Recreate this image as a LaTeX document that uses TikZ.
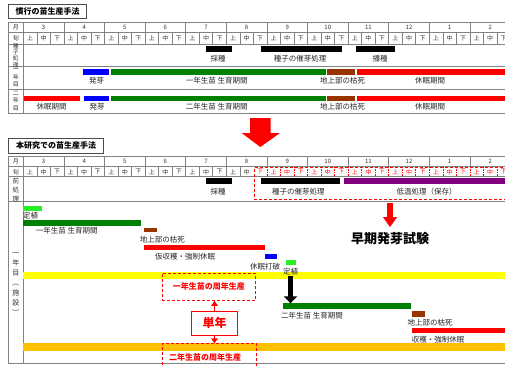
\documentclass[tikz,border=0pt]{standalone}
\usepackage{fontspec}
\setmainfont{Noto Sans CJK JP}
\usetikzlibrary{arrows.meta}
\definecolor{bgreen}{RGB}{0,128,0}
\definecolor{lgreen}{RGB}{40,240,40}
\definecolor{bblue}{RGB}{0,0,255}
\definecolor{bbrown}{RGB}{153,51,0}
\definecolor{bred}{RGB}{255,0,0}
\definecolor{bpurple}{RGB}{128,0,128}
\definecolor{byellow}{RGB}{255,255,0}
\definecolor{bgold}{RGB}{255,192,0}
\definecolor{gridgray}{RGB}{130,130,130}
\newcommand\mkbar[6]{\node[inner sep=0pt,outer sep=0pt,fill=#6,minimum width={(#3-#2)*1pt},minimum height={(#5-#4)*1pt},anchor=north west] (#1) at (#2,#4) {};}
\begin{document}
\begin{tikzpicture}[x=1pt,y=-1pt,
  lbl/.style={inner sep=0pt,font=\fontsize{7.5}{8}\selectfont,text=black!85},
  small/.style={inner sep=0pt,font=\fontsize{6}{6}\selectfont,text=black!80},
  vlbl/.style={inner sep=0pt,align=center,font=\fontsize{5.8}{6.2}\selectfont,text=black!80},
  grid/.style={draw=gridgray,line width=0.6pt},
  rdash/.style={draw=bred,dash pattern=on 3pt off 2pt,line width=0.8pt},
  titlebox/.style={draw=black!70,line width=0.8pt,anchor=north west,inner sep=0pt,font=\bfseries\fontsize{8}{8}\selectfont},
  rarrow/.style={draw=bred,line width=1.6pt,-{Triangle[width=6.5pt,length=5pt]}},
  ]
\useasboundingbox (0,0) rectangle (505,365);
\clip (0,0) rectangle (505,365);
\fill[white] (0,0) rectangle (505,365);

% ---------------- Title 1
\node[titlebox,minimum width=77.7pt,minimum height=14pt] (t1) at (8.3,4) {慣行の苗生産手法};

% ---------------- Table 1 grid
\draw[grid] (8.3,22.3) rectangle (512,113);
\foreach \yy in {32.7,44.3,66.7,89} \draw[grid] (8.3,\yy) -- (512,\yy);
\draw[grid] (23.3,22.3) -- (23.3,113);
\foreach \i in {1,...,12} {\pgfmathsetmacro\xx{23.3+40.6*\i} \draw[grid] (\xx,22.3) -- (\xx,32.7);}
\foreach \i in {1,...,35} {\pgfmathsetmacro\xx{23.3+13.533*\i} \draw[grid] (\xx,32.7) -- (\xx,44.3);}
\foreach \m [count=\i from 0] in {3,4,5,6,7,8,9,10,11,12,1,2} {\pgfmathsetmacro\xx{43.6+40.6*\i} \node[small] at (\xx,27.6) {\m};}
\foreach \i in {0,...,35} {\pgfmathtruncatemacro\k{mod(\i,3)}\pgfmathsetmacro\xx{30.07+13.533*\i}
  \node[small] at (\xx,38.6) {\ifcase\k 上\or 中\or 下\fi};}
\node[small] at (15.8,27.6) {月};
\node[small] at (15.8,38.6) {旬};
\node[vlbl] at (15.8,55.5) {種\\子\\処\\理};
\node[vlbl,font=\fontsize{6}{7.5}\selectfont] at (15.8,78) {一\\年\\目};
\node[vlbl,font=\fontsize{6}{7.5}\selectfont] at (15.8,101) {二\\年\\目};

% row 3
\mkbar{a1}{205.7}{232.3}{46}{52}{black}
\mkbar{a2}{260.7}{341.7}{46}{52}{black}
\mkbar{a3}{355.7}{395}{46}{52}{black}
\node[lbl] (a1l) at (218,59) {採種};
\node[lbl] (a2l) at (300,59) {種子の催芽処理};
\node[lbl] (a3l) at (380,59) {播種};
% row 4
\mkbar{b1}{83.3}{109}{69}{75}{bblue}
\mkbar{b2}{111}{326}{69}{75}{bgreen}
\mkbar{b3}{327.3}{355}{69}{75}{bbrown}
\mkbar{b4}{357.3}{512}{69}{75}{bred}
\node[lbl] (b1l) at (96.7,80.5) {発芽};
\node[lbl] (b2l) at (216.7,80.5) {一年生苗 生育期間};
\node[lbl] (b3l) at (342.7,80.5) {地上部の枯死};
\node[lbl] (b4l) at (430,80.5) {休眠期間};
% row 5
\mkbar{c0}{24.3}{80}{95.5}{101}{bred}
\mkbar{c1}{84}{109.3}{95.5}{101}{bblue}
\mkbar{c2}{111}{326}{95.5}{101}{bgreen}
\mkbar{c3}{327.3}{355}{95.5}{101}{bbrown}
\mkbar{c4}{357.3}{512}{95.5}{101}{bred}
\node[lbl] (c0l) at (51.7,106.5) {休眠期間};
\node[lbl] (c1l) at (97,106.5) {発芽};
\node[lbl] (c2l) at (216.7,106.5) {二年生苗 生育期間};
\node[lbl] (c3l) at (342.7,106.5) {地上部の枯死};
\node[lbl] (c4l) at (430,106.5) {休眠期間};

% ---------------- big red arrow
\fill[bred] (250,118) -- (270.7,118) -- (270.7,133) -- (280,133) -- (260.3,147) -- (241.7,133) -- (250,133) -- cycle;

% ---------------- Title 2
\node[titlebox,minimum width=94.7pt,minimum height=15pt] (t2) at (8.3,138) {本研究での苗生産手法};

% ---------------- Table 2 grid
\draw[grid] (8.3,156) rectangle (512,363);
\foreach \yy in {166.7,176.7,201.7} \draw[grid] (8.3,\yy) -- (512,\yy);
\draw[grid] (23.3,156) -- (23.3,363);
\foreach \i in {1,...,12} {\pgfmathsetmacro\xx{23.3+40.6*\i} \draw[grid] (\xx,156) -- (\xx,166.7);}
\foreach \i in {1,...,16} {\pgfmathsetmacro\xx{23.3+13.533*\i} \draw[grid] (\xx,166.7) -- (\xx,176.7);}
\foreach \i in {18,...,35} {\pgfmathsetmacro\xx{23.3+13.533*\i} \draw[draw=bred,dash pattern=on 1.5pt off 1pt,line width=0.6pt] (\xx,166.7) -- (\xx,176.7);}
\foreach \m [count=\i from 0] in {3,4,5,6,7,8,9,10,11,12,1,2} {\pgfmathsetmacro\xx{43.6+40.6*\i} \node[small] at (\xx,161.4) {\m};}
\foreach \i in {0,...,35} {\pgfmathtruncatemacro\k{mod(\i,3)}\pgfmathsetmacro\xx{30.07+13.533*\i}
  \ifnum\i>16 \def\tc{bred}\else\def\tc{black!80}\fi
  \node[small,text=\tc] at (\xx,171.8) {\ifcase\k 上\or 中\or 下\fi};}
\node[small] at (15.8,161.4) {月};
\node[small] at (15.8,171.8) {旬};
\node[vlbl,font=\fontsize{6.5}{9}\selectfont] at (15.8,189.5) {前\\処\\理};
\node[vlbl,font=\fontsize{7}{10}\selectfont] at (15.8,283.5) {一\\年\\目\\︵\\施\\設\\︶};

\node[rdash,inner sep=0pt,minimum width=258pt,minimum height=32.3pt,anchor=north west] (prebox) at (253.8,166.7) {};

\mkbar{d1}{205.7}{232.3}{178}{184}{black}
\mkbar{d2}{260.7}{340}{178}{184}{black}
\mkbar{d3}{344}{512}{178}{184}{bpurple}
\node[lbl] (d1l) at (218,191.7) {採種};
\node[lbl] (d2l) at (298.3,191.7) {種子の催芽処理};
\node[lbl] (d3l) at (426.7,191.7) {低温処理（保存）};

% early germination test
\node[inner sep=0pt,font=\bfseries\fontsize{13}{13}\selectfont] (test) at (390,238.5) {早期発芽試験};
\draw[draw=bred,line width=6.6pt,-{Triangle[width=13.4pt,length=10pt]},shorten <=2.7pt,shorten >=5pt] (test.north |- prebox.south) -- (test.north);

% first year bars
\mkbar{e1}{22.7}{41.7}{206}{210.7}{lgreen}
\node[lbl] (e1l) at (30.5,216) {定植};
\mkbar{e2}{22.7}{140.7}{220}{226}{bgreen}
\node[lbl] (e2l) at (66.7,231) {一年生苗 生育期間};
\mkbar{e3}{144}{157.3}{228}{232}{bbrown}
\node[lbl] (e3l) at (162.3,240) {地上部の枯死};
\mkbar{e4}{144}{265}{245}{250}{bred}
\node[lbl] (e4l) at (185,256.5) {仮収穫・強制休眠};
\mkbar{e5}{265}{276.7}{254}{259.3}{bblue}
\node[lbl] (e5l) at (265,267) {休眠打破};
\mkbar{e6}{285.7}{296}{260}{265}{lgreen}

\mkbar{y1}{22.7}{512}{271.7}{279.3}{byellow}
\node[lbl] (e6l) at (290.5,271.5) {定植};

% second year bars
\mkbar{f1}{282.7}{411}{303.3}{309}{bgreen}
\node[lbl] (f1l) at (312,316) {二年生苗 生育期間};
\mkbar{f2}{411.7}{425}{311}{316.7}{bbrown}
\node[lbl] (f2l) at (430,322.7) {地上部の枯死};
\mkbar{f3}{412.3}{512}{328.3}{333.3}{bred}
\node[lbl] (f3l) at (438,339.5) {収穫・強制休眠};
\mkbar{y2}{22.7}{512}{343.3}{351}{bgold}

\draw[line width=5.5pt,-{Triangle[width=13pt,length=7pt]},shorten <=1pt] (e6l.south) -- (e6l.south |- f1.north);

% year-round production boxes
\node[rdash,inner sep=0pt,minimum width=93.3pt,minimum height=27.5pt,anchor=north west,text=bred,font=\bfseries\fontsize{8}{8}\selectfont] (box1) at (161.7,272.5) {一年生苗の周年生産};
\node[rdash,inner sep=0pt,minimum width=94.3pt,minimum height=28pt,anchor=north west] (box2) at (161.7,343.3) {};
\node[inner sep=0pt,text=bred,font=\bfseries\fontsize{8}{8}\selectfont] (box2t) at (205,357.5) {二年生苗の周年生産};
\node[draw=bred,line width=0.6pt,fill=white,minimum width=45.6pt,minimum height=23.3pt,text=bred,font=\bfseries\fontsize{12}{12}\selectfont] (tan) at (214.5,323.3) {単年};
\draw[rarrow] (tan.north) -- (tan.north |- box1.south);
\draw[rarrow] (tan.south) -- (tan.south |- box2.north);
\end{tikzpicture}
\end{document}
